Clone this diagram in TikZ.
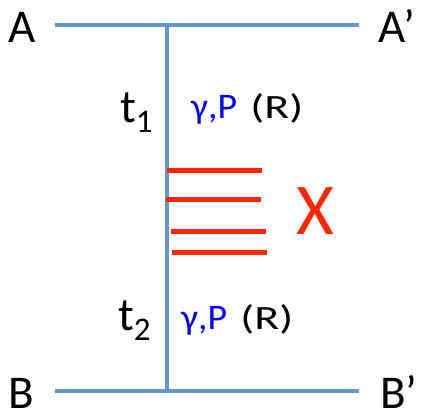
\documentclass[tikz,border=0pt]{standalone}
\usepackage{fontspec}
\setmainfont{Carlito}
\usetikzlibrary{positioning}
\definecolor{barblue}{RGB}{100,150,205}
\definecolor{cutred}{RGB}{255,38,0}
\definecolor{rxnblue}{RGB}{0,0,255}
\tikzset{
  %% ---- lines ----
  bar/.style    = {line width=4.5pt, color=barblue},
  cutline/.style= {line width=5pt, color=cutred},
  %% ---- labels ----
  endlbl/.style = {anchor=base west, inner sep=0pt,
                   font=\fontsize{47}{50}\selectfont},
  timelbl/.style= {anchor=base west, inner sep=0pt,
                   font=\fontsize{47}{50}\selectfont},
  rxnlbl/.style = {anchor=base west, inner sep=0pt, text=rxnblue,
                   font=\fontsize{36}{38}\selectfont},
  rtag/.style   = {anchor=base west, inner sep=0pt,
                   font=\fontsize{34}{36}\selectfont},
}
\newcommand{\tsub}[1]{{\fontsize{33}{33}\selectfont\raisebox{-10pt}{#1}}}
\newcommand{\wide}[2]{\scalebox{#1}[1]{#2}}

\begin{document}
\begin{tikzpicture}[x=1pt, y=-1pt]
\useasboundingbox (0,0) rectangle (424,419);

% end points of the two surfaces and the link
\coordinate (topL) at (55,25);
\coordinate (topM) at (167,25);
\coordinate (topR) at (359,25);
\coordinate (botL) at (55,391);
\coordinate (botM) at (167,391);
\coordinate (botR) at (359,391);

\draw[bar] (topL) -- (topR);
\draw[bar] (botL) -- (botR);
\draw[bar] (topM) -- (botM);

% cuts
\foreach \y/\xa/\xb in {171/167/262, 200/166/261, 232/171/266, 253/172/267}
  \draw[cutline] (\xa,\y) -- (\xb,\y);

\node[endlbl] (a)  at (8,43)   {A};
\node[endlbl] (ap) at (378,43) {A’};
\node[endlbl] (b)  at (8,409)  {B};
\node[endlbl] (bp) at (380,409) {B’};

\node[timelbl] (t1) at (120,123) {t\tsub{1}};
\node[rxnlbl]  (g1) at (191,119) {\wide{1.05}{γ,P}};
\node[rtag, right=13pt of g1.base east, anchor=base west] (r1) {\wide{1.35}{(R)}};

\node[timelbl] (t2) at (118,331) {t\tsub{2}};
\node[rxnlbl]  (g2) at (181,330) {\wide{1.05}{γ,P}};
\node[rtag, right=13pt of g2.base east, anchor=base west] (r2) {\wide{1.35}{(R)}};

\node[anchor=base west, inner sep=0pt, text=cutred,
      font=\fontsize{73}{76}\selectfont] (x) at (296,235) {X};
\end{tikzpicture}
\end{document}
